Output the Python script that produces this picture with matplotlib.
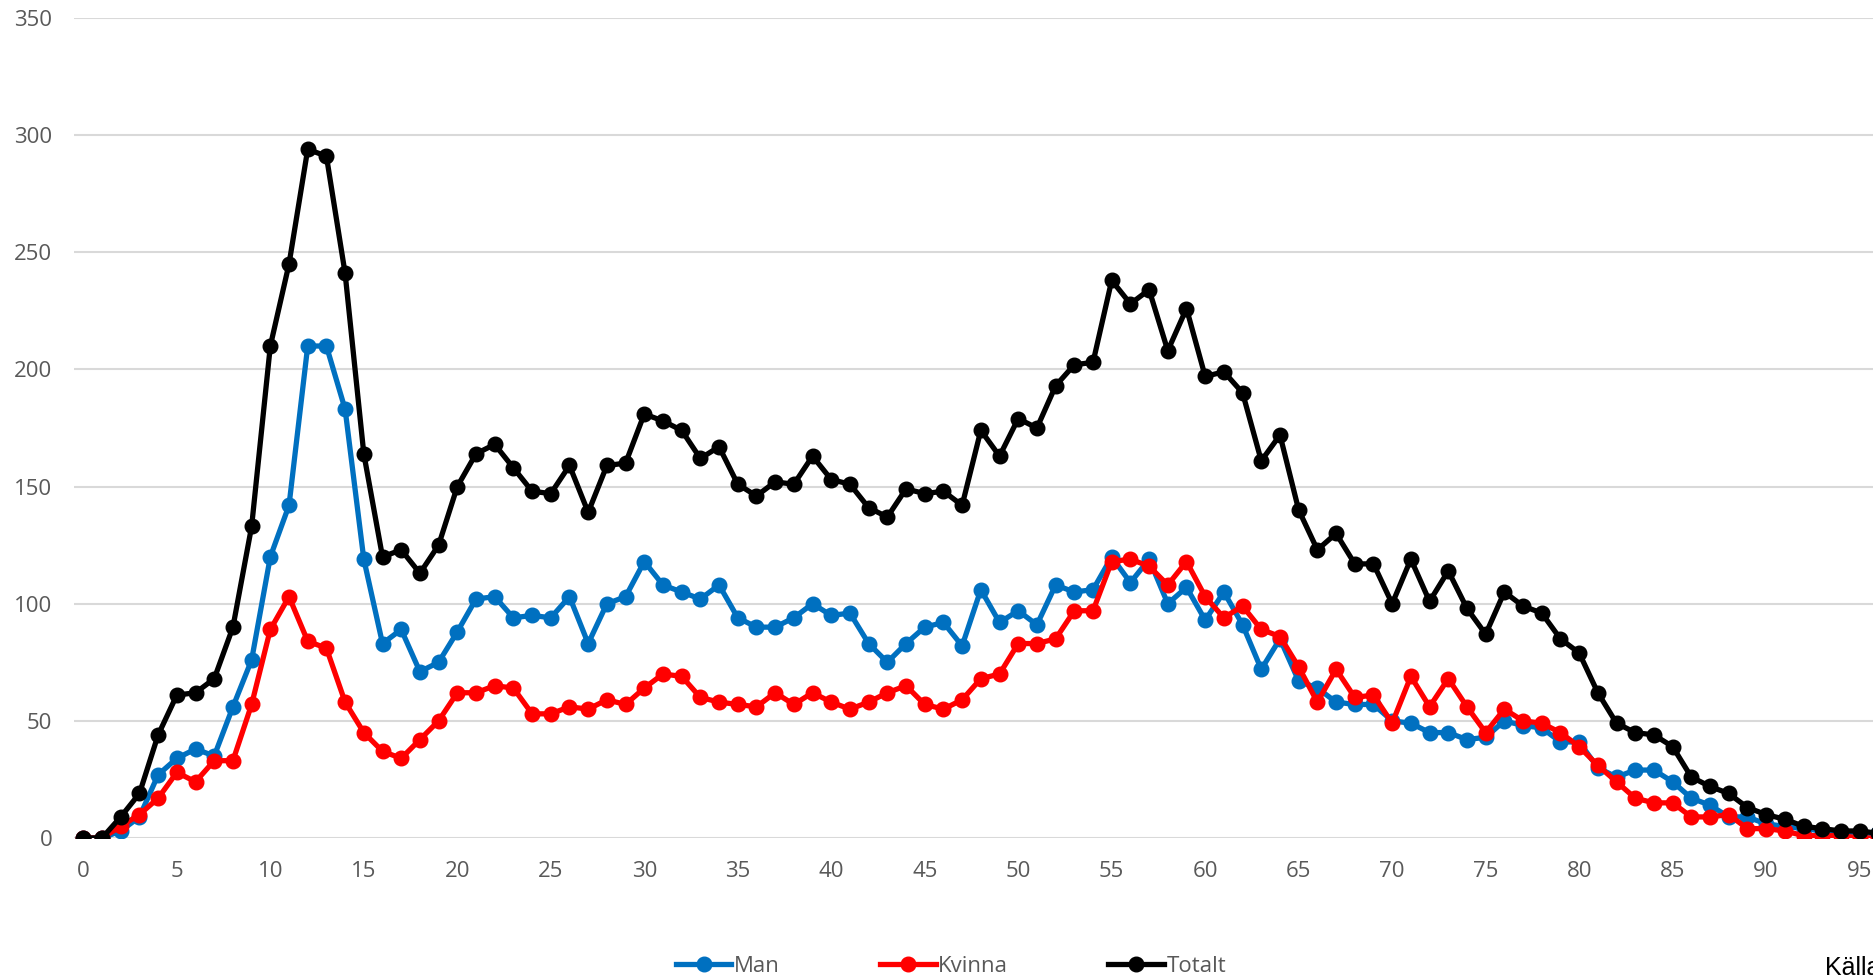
import matplotlib
matplotlib.use("Agg")
import matplotlib.pyplot as plt

plt.rcParams['font.family'] = ['Open Sans', 'DejaVu Sans']

# age 0..96
ages = list(range(0, 97))
man = [0, 0, 3, 9, 27, 34, 38, 35, 56, 76,
       120, 142, 210, 210, 183, 119, 83, 89, 71, 75,
       88, 102, 103, 94, 95, 94, 103, 83, 100, 103,
       118, 108, 105, 102, 108, 94, 90, 90, 94, 100,
       95, 96, 83, 75, 83, 90, 92, 82, 106, 92,
       97, 91, 108, 105, 106, 120, 109, 119, 100, 107,
       93, 105, 91, 72, 85, 67, 64, 58, 57, 57,
       50, 49, 45, 45, 42, 43, 50, 48, 47, 41,
       41, 30, 26, 29, 29, 24, 17, 14, 9, 9,
       6, 5, 4, 3, 2, 2, 2]
kvinna = [0, 0, 5, 10, 17, 28, 24, 33, 33, 57,
          89, 103, 84, 81, 58, 45, 37, 34, 42, 50,
          62, 62, 65, 64, 53, 53, 56, 55, 59, 57,
          64, 70, 69, 60, 58, 57, 56, 62, 57, 62,
          58, 55, 58, 62, 65, 57, 55, 59, 68, 70,
          83, 83, 85, 97, 97, 118, 119, 116, 108, 118,
          103, 94, 99, 89, 86, 73, 58, 72, 60, 61,
          49, 69, 56, 68, 56, 45, 55, 50, 49, 45,
          39, 31, 24, 17, 15, 15, 9, 9, 10, 4,
          4, 3, 1, 1, 1, 0, 0]
totalt = [0, 0, 9, 19, 44, 61, 62, 68, 90, 133,
          210, 245, 294, 291, 241, 164, 120, 123, 113, 125,
          150, 164, 168, 158, 148, 147, 159, 139, 159, 160,
          181, 178, 174, 162, 167, 151, 146, 152, 151, 163,
          153, 151, 141, 137, 149, 147, 148, 142, 174, 163,
          179, 175, 193, 202, 203, 238, 228, 234, 208, 226,
          197, 199, 190, 161, 172, 140, 123, 130, 117, 117,
          100, 119, 101, 114, 98, 87, 105, 99, 96, 85,
          79, 62, 49, 45, 44, 39, 26, 22, 19, 13,
          10, 8, 5, 4, 3, 3, 2]

xticks = list(range(0, 100, 5))
yticks = list(range(0, 351, 50))

fig = plt.figure(figsize=(18.74, 9.76), dpi=100)
ax = fig.add_axes([74 / 1874, 138 / 976, 1 - 74 / 1874, 820 / 976])

grey = '#595959'
lw = 3.8
ms = 10.5
ax.plot(ages, man, color='#0070C0', lw=lw, marker='o', ms=ms, label='Man')
ax.plot(ages, kvinna, color='#FF0000', lw=lw, marker='o', ms=ms, label='Kvinna')
ax.plot(ages, totalt, color='#000000', lw=lw, marker='o', ms=ms, label='Totalt')

ax.set_xlim(-0.5, 95.77)
ax.set_ylim(0, 350)
ax.set_xticks(xticks)
ax.set_yticks(yticks)
ax.grid(axis='y', color='#d9d9d9', lw=1.5)
ax.set_axisbelow(True)
for s in ax.spines.values():
    s.set_visible(False)
ax.tick_params(length=0, labelsize=16, labelcolor=grey)
ax.tick_params(axis='y', pad=15.5)
ax.tick_params(axis='x', pad=16.5)

fig.legend(loc='center', bbox_to_anchor=(951 / 1874, 1 - 966 / 976), ncol=3,
           frameon=False, fontsize=16, labelcolor=grey, handlelength=2.5,
           handletextpad=0.12, columnspacing=4.5, borderpad=0)

fig.text(1825 / 1874, 1 / 976, 'Källa', fontsize=18, family='Liberation Sans',
         color='black', va='baseline', ha='left')

fig.savefig('out.png', dpi=100)
